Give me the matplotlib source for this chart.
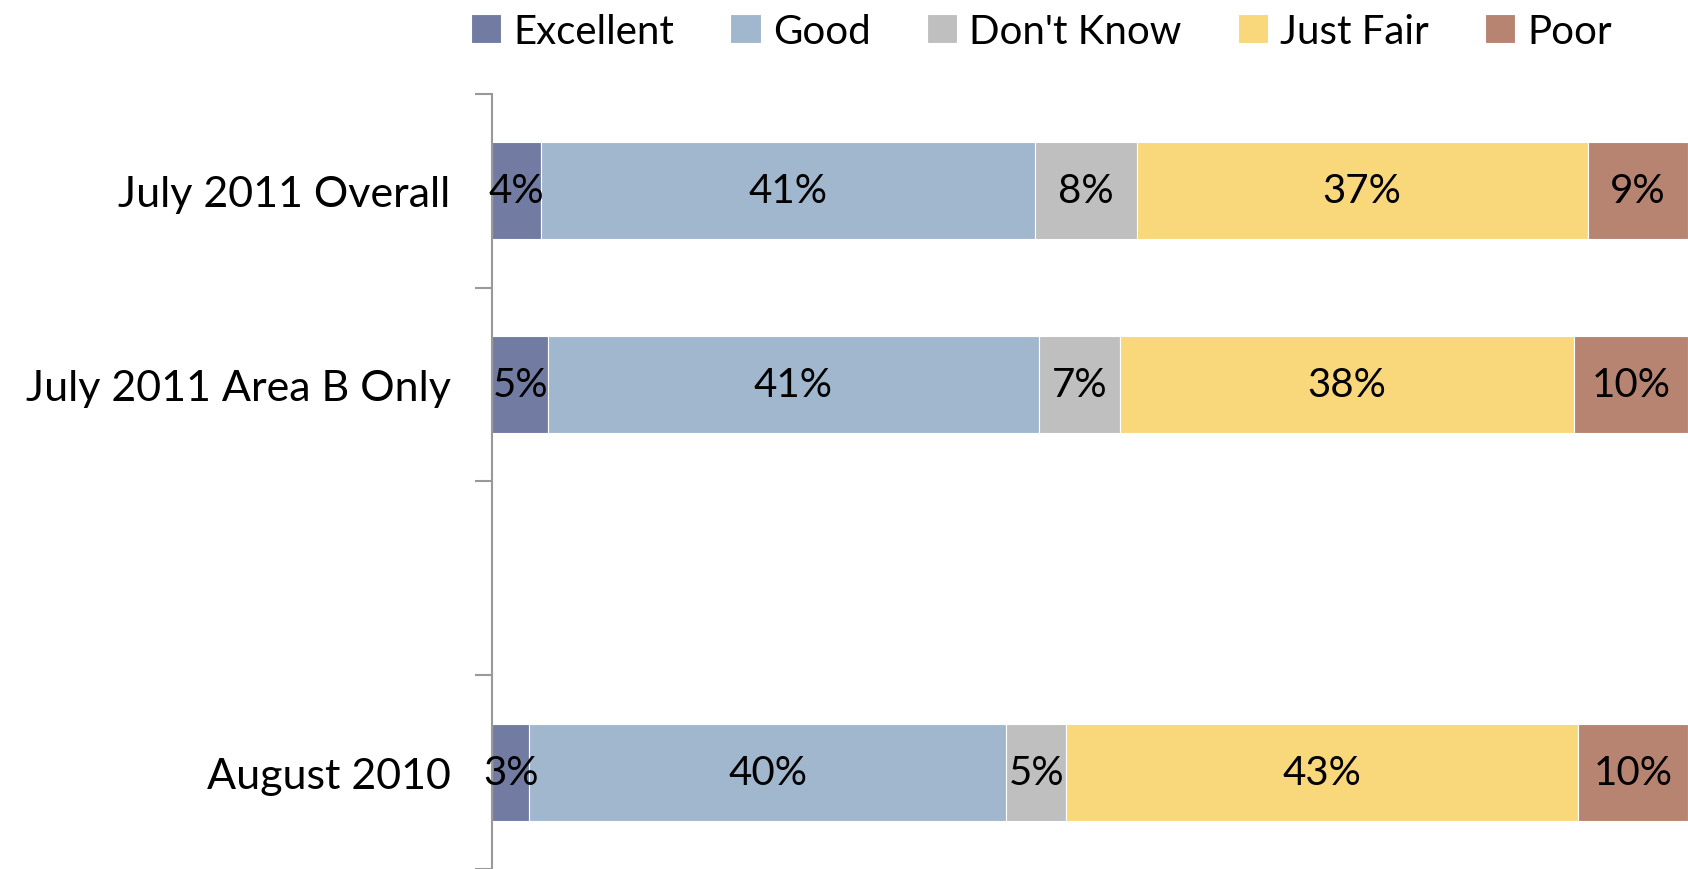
import numpy as np
import matplotlib
matplotlib.use("Agg")
import matplotlib.pyplot as plt

plt.rcParams['font.family'] = ['Lato', 'DejaVu Sans']

categories = ['July 2011 Overall', 'July 2011 Area B Only', '', 'August 2010']
series = ['Excellent', 'Good', "Don't Know", 'Just Fair', 'Poor']

# shares (blank row is a spacer)
excellent = [4.1, 4.7, np.nan, 3.1]
good = [41.3, 41.0, np.nan, 39.9]
dont_know = [8.5, 6.8, np.nan, 5.0]
just_fair = [37.7, 38.0, np.nan, 42.8]
poor = [8.4, 9.5, np.nan, 9.2]

# printed labels
excellent_lbl = [4, 5, None, 3]
good_lbl = [41, 41, None, 40]
dont_know_lbl = [8, 7, None, 5]
just_fair_lbl = [37, 38, None, 43]
poor_lbl = [9, 10, None, 10]

colors = ['#727ca3', '#a1b7ce', '#bfbfbf', '#f9d77b', '#b88472']

values = [excellent, good, dont_know, just_fair, poor]
labels = [excellent_lbl, good_lbl, dont_know_lbl, just_fair_lbl, poor_lbl]

fig = plt.figure(figsize=(16.88, 8.7), dpi=100)
ax = fig.add_axes([0.2915, 0.0, 0.7085, 0.891])

y = np.arange(len(categories))
left = np.zeros(len(categories))
for name, vals, lbls, c in zip(series, values, labels, colors):
    vals = np.array(vals, dtype=float)
    ax.barh(y, np.nan_to_num(vals), left=left, height=0.5, color=c,
            edgecolor='white', linewidth=0.8, label=name)
    for i, (v, l) in enumerate(zip(vals, lbls)):
        if l is None:
            continue
        ax.text(left[i] + v / 2, y[i], f'{l}%', ha='center', va='center',
                fontsize=29, color='black')
    left = left + np.nan_to_num(vals)

ax.set_xlim(0, 100)
ax.set_ylim(len(categories) - 0.5, -0.5)
ax.set_yticks(y)
ax.set_yticklabels(categories, fontsize=31)
ax.tick_params(axis='y', which='major', length=0, pad=30)
ax.set_yticks(np.arange(len(categories) + 1) - 0.5, minor=True)
ax.tick_params(axis='y', which='minor', length=12, width=1.5, color='#999999')
ax.set_xticks([])
for s in ['top', 'right', 'bottom']:
    ax.spines[s].set_visible(False)
ax.spines['left'].set_color('#999999')
ax.spines['left'].set_linewidth(1.5)

fig.legend(loc='center', bbox_to_anchor=(0.617, 0.963), ncol=5, frameon=False,
           fontsize=29, handlelength=0.75, handleheight=0.75, handletextpad=0.3,
           columnspacing=1.4)

fig.savefig('out.png', dpi=100)
